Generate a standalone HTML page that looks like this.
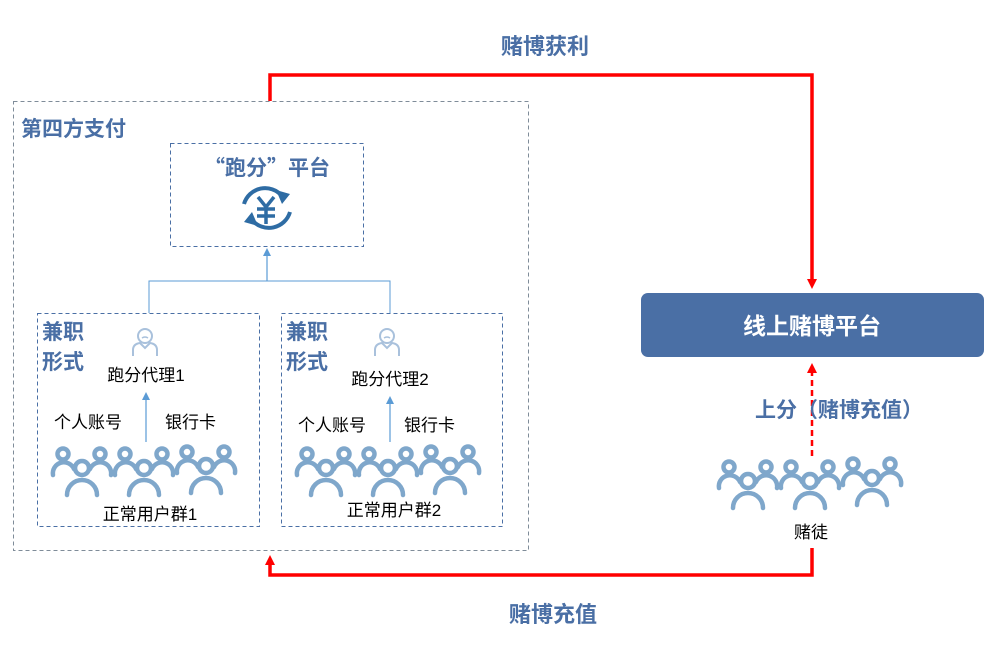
<!DOCTYPE html>
<html><head><meta charset="utf-8"><style>
body{margin:0;background:#fff;}
svg text{font-family:"Liberation Sans","Noto Sans CJK SC",sans-serif;}
</style></head><body>
<svg width="988" height="652" viewBox="0 0 988 652" xmlns="http://www.w3.org/2000/svg">
<defs>
<g id="ppl" fill="none" stroke="#7fa7cb" stroke-width="4.5" stroke-linecap="round">
<circle cx="13" cy="9" r="5.5"/><circle cx="50" cy="9" r="5.5"/>
<path d="M3,30 A11,11 0 0 1 24,24"/><path d="M40,24 A11,11 0 0 1 61,30"/>
<circle cx="32" cy="23" r="7"/>
<path d="M17,50 A15,15 0 0 1 47,50"/>
</g>
<g id="agent" fill="none" stroke="#a9c1dc" stroke-width="2">
<circle cx="0" cy="-8" r="7"/>
<path d="M-3,-6 q3,-2 6,0" stroke-width="1.5"/>
<path d="M-12,12 V6 q0,-6 7,-7 l5,5 l5,-5 q7,1 7,7 V12"/>
</g>
<marker id="ab" markerWidth="8" markerHeight="8" refX="4" refY="4" orient="auto" markerUnits="userSpaceOnUse"><path d="M0,0 L8,4 L0,8z" fill="#5b9bd5"/></marker>
<marker id="ar" markerWidth="10" markerHeight="10" refX="5" refY="5" orient="auto" markerUnits="userSpaceOnUse"><path d="M0,0 L10,5 L0,10z" fill="#f00"/></marker>
</defs>
<text x="545" y="54" font-size="22" font-weight="bold" fill="#4a6fa5" text-anchor="middle">赌博获利</text>
<text x="553" y="622" font-size="22" font-weight="bold" fill="#4a6fa5" text-anchor="middle">赌博充值</text>
<polyline points="270,101 270,75 812,75 812,284" fill="none" stroke="#f00" stroke-width="3.5" marker-end="url(#ar)"/>
<polyline points="812,548 812,575 270,575 270,560" fill="none" stroke="#f00" stroke-width="3.5" marker-end="url(#ar)"/>
<line x1="812" y1="456" x2="812" y2="368" stroke="#f00" stroke-width="2.5" stroke-dasharray="6,4" marker-end="url(#ar)"/>
<rect x="13.5" y="101.5" width="515" height="449" fill="none" stroke="#7f8c99" stroke-dasharray="4,3"/>
<text x="21" y="136" font-size="21" font-weight="bold" fill="#4a6fa5">第四方支付</text>
<rect x="170.5" y="143.5" width="193" height="103" fill="none" stroke="#4a6fa5" stroke-dasharray="4,3"/>
<text x="267" y="175" font-size="21" font-weight="bold" fill="#4a6fa5" text-anchor="middle" style='font-family:"Noto Sans CJK SC",sans-serif'>“跑分”平台</text>
<g fill="none" stroke="#2e6ca4" stroke-width="4">
<path d="M244,204 A22,22 0 0 1 282,196"/><path d="M290,212 A22,22 0 0 1 252,220"/>
</g>
<path d="M276,190 L290,194 L282,204z M258,226 L244,222 L252,212z" fill="#2e6ca4"/>
<path d="M258,197 L266,207 L274,197 M266,207 V224 M257,209 H275 M257,216 H275" fill="none" stroke="#2e6ca4" stroke-width="3.5"/>
<polyline points="149,313 149,281 390,281 390,313" fill="none" stroke="#5b9bd5" stroke-width="1"/>
<line x1="267" y1="281" x2="267" y2="252" stroke="#5b9bd5" stroke-width="1.2" marker-end="url(#ab)"/>
<rect x="37.5" y="313.5" width="222" height="213" fill="none" stroke="#4a6fa5" stroke-dasharray="4,3"/>
<rect x="281.5" y="313.5" width="221" height="213" fill="none" stroke="#4a6fa5" stroke-dasharray="4,3"/>
<g font-size="21" font-weight="bold" fill="#4a6fa5">
<text x="42" y="339">兼职</text><text x="42" y="369">形式</text>
<text x="286" y="339">兼职</text><text x="286" y="369">形式</text>
</g>
<use href="#agent" x="145" y="344"/><use href="#agent" x="387" y="344"/>
<g font-size="17" fill="#000">
<text x="146" y="381" text-anchor="middle">跑分代理1</text>
<text x="390" y="385" text-anchor="middle">跑分代理2</text>
<text x="54" y="428">个人账号</text><text x="165" y="428">银行卡</text>
<text x="298" y="431">个人账号</text><text x="404" y="431">银行卡</text>
<text x="150" y="520" text-anchor="middle">正常用户群1</text>
<text x="394" y="516" text-anchor="middle">正常用户群2</text>
<text x="811" y="538" text-anchor="middle">赌徒</text>
</g>
<line x1="146" y1="442" x2="146" y2="396" stroke="#5b9bd5" stroke-width="1.2" marker-end="url(#ab)"/>
<line x1="390" y1="442" x2="390" y2="400" stroke="#5b9bd5" stroke-width="1.2" marker-end="url(#ab)"/>
<use href="#ppl" x="50" y="445"/><use href="#ppl" x="112" y="445"/><use href="#ppl" x="174" y="443"/>
<use href="#ppl" x="294" y="445"/><use href="#ppl" x="356" y="445"/><use href="#ppl" x="418" y="443"/>
<use href="#ppl" x="716" y="458"/><use href="#ppl" x="778" y="458"/><use href="#ppl" x="840" y="455"/>
<rect x="641" y="293" width="343" height="64" rx="7" fill="#4a6fa5"/>
<text x="812" y="334" font-size="23" font-weight="bold" fill="#fff" text-anchor="middle">线上赌博平台</text>
<text x="755" y="417" font-size="21" font-weight="bold" fill="#4a6fa5">上分（赌博充值）</text>
</svg>
</body></html>
